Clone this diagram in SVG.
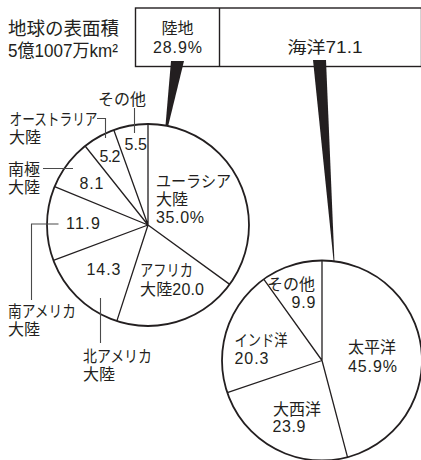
<svg xmlns="http://www.w3.org/2000/svg" width="421" height="460" viewBox="0 0 421 460">
<style>
text{font-family:"Liberation Sans","Noto Sans CJK JP",sans-serif;fill:#231f20;font-size:16px}
.t{font-size:18.5px}
.pie{fill:#fff;stroke:#231f20;stroke-width:1.8}
.sl{stroke:#231f20;stroke-width:1.3;fill:none}
.ld{stroke:#4a4a4a;stroke-width:1.1;fill:none}
.box{fill:#fff;stroke:#231f20;stroke-width:1.4}
.wedge{fill:#231f20}
.m{text-anchor:middle}
.e{text-anchor:end}
</style>
<rect width="421" height="460" fill="#fff"/>
<g id="title">
<text class="t" x="8" y="35">地球の表面積</text>
<text class="t" x="8" y="57" textLength="110" lengthAdjust="spacingAndGlyphs">5億1007万km²</text>
</g>
<g id="surface-box">
<rect class="box" x="135.5" y="8" width="286" height="58.5"/>
<line class="box" x1="219.5" y1="8" x2="219.5" y2="66.5"/>
<text class="m" x="177.5" y="34">陸地</text>
<text class="m" x="177.5" y="52.5" textLength="49">28.9%</text>
<text class="m" x="325" y="53" textLength="75" lengthAdjust="spacingAndGlyphs">海洋71.1</text>
</g>
<g id="connectors">
<polygon class="wedge" points="171,61 184,61 164,143"/>
<polygon class="wedge" points="313,60 326,60 335,275"/>
</g>
<g id="land-pie">
<circle class="pie" cx="148" cy="225" r="101"/>
<path class="sl" d="M148,225 L148,124 M148,225 L229.7,284.4 M148,225 L116.8,321.1 M148,225 L53.4,260.4 M148,225 L54.6,186.6 M148,225 L85.1,146 M148,225 L113.8,130"/>
</g>
<g id="ocean-pie">
<circle class="pie" cx="322" cy="360.5" r="100"/>
<path class="sl" d="M322,360.5 L322,260.5 M322,360.5 L347.5,457.2 M322,360.5 L227.3,392.6 M322,360.5 L263.7,279.2"/>
</g>
<g id="leaders">
<path class="ld" d="M134.5,108 V133 M97,118.5 H105.5 V138 M43,168.5 H73 M58.5,224 H31.5 V300 M100.5,298 V343"/>
</g>
<g id="land-labels">
<text x="156" y="187" textLength="75" lengthAdjust="spacingAndGlyphs">ユーラシア</text>
<text x="156" y="205">大陸</text>
<text x="156" y="222.5" textLength="48">35.0%</text>
<text x="140" y="276" textLength="53" lengthAdjust="spacingAndGlyphs">アフリカ</text>
<text x="140" y="295" textLength="64">大陸20.0</text>
<text x="86.5" y="275" textLength="34">14.3</text>
<text x="83" y="362" textLength="69" lengthAdjust="spacingAndGlyphs">北アメリカ</text>
<text x="83" y="380">大陸</text>
<text x="66" y="229" textLength="34">11.9</text>
<text x="8" y="317" textLength="68" lengthAdjust="spacingAndGlyphs">南アメリカ</text>
<text x="8" y="335">大陸</text>
<text x="79.5" y="189" textLength="24">8.1</text>
<text x="8" y="175">南極</text>
<text x="8" y="193">大陸</text>
<text x="99.5" y="161.5" textLength="21">5.2</text>
<text x="9.5" y="125" textLength="88" lengthAdjust="spacingAndGlyphs">オーストラリア</text>
<text x="9" y="143">大陸</text>
<text x="124.5" y="150" textLength="22.5">5.5</text>
<text class="e" x="146" y="105">その他</text>
</g>
<g id="ocean-labels">
<text x="348" y="353">太平洋</text>
<text x="348" y="371.5" textLength="49">45.9%</text>
<text x="273" y="415">大西洋</text>
<text x="272.5" y="432" textLength="33">23.9</text>
<text x="234.5" y="346" textLength="53" lengthAdjust="spacingAndGlyphs">インド洋</text>
<text x="234.5" y="364" textLength="34">20.3</text>
<text class="e" x="315" y="290">その他</text>
<text class="e" x="315.5" y="308" textLength="24">9.9</text>
</g>
</svg>
